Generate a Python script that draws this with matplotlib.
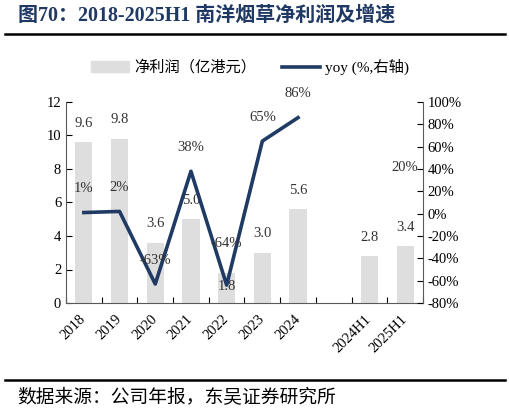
import numpy as np
import matplotlib.pyplot as plt
from matplotlib.lines import Line2D
from matplotlib.ticker import FuncFormatter

plt.rcParams['font.family'] = ['Liberation Serif', 'Noto Sans CJK SC']

# data
categories = ['2018', '2019', '2020', '2021', '2022', '2023', '2024', '', '2024H1', '2025H1']
net_profit = [9.6, 9.8, 3.6, 5.0, 1.8, 3.0, 5.6, np.nan, 2.8, 3.4]   # 亿港元
yoy = [1, 2, -63, 38, -64, 65, 86, np.nan, np.nan, 20]                # %

bar_color = '#DEDEDE'
line_color = '#1F3B63'
title_color = '#1F3864'

fig = plt.figure(figsize=(5.10, 4.13), dpi=100)
ax = fig.add_axes([66 / 510, 1 - 303 / 413, 357 / 510, 201 / 413])
ax2 = ax.twinx()

x = np.arange(len(categories))
ax.bar(x, net_profit, width=0.48, color=bar_color, zorder=1)
ax.set_ylim(0, 12)
ax.set_yticks(np.arange(0, 13, 2))
ax.set_xlim(-0.5, len(categories) - 0.5)

# tick marks on category boundaries, labels on centres
ax.set_xticks(np.arange(-0.5, len(categories), 1))
ax.set_xticklabels([])
ax.set_xticks(x, minor=True)
ax.set_xticklabels(categories, minor=True, rotation=45, ha='right',
                   rotation_mode='anchor', va='center')
ax.tick_params(axis='x', which='minor', length=0, pad=10, labelsize=10.5)
ax.tick_params(axis='x', which='major', direction='in', length=4)
ax.tick_params(axis='y', direction='in', length=4, labelsize=10.5)

yoy_arr = np.array(yoy, dtype=float) / 100
ax2.plot(x, yoy_arr, color=line_color, lw=2.6, zorder=3)
ax2.set_ylim(-0.8, 1.0)
ax2.set_yticks(np.arange(-0.8, 1.01, 0.2))
ax2.yaxis.set_major_formatter(FuncFormatter(lambda v, p: f'{round(v * 100) + 0:.0f}%'))
ax2.tick_params(axis='y', direction='in', length=4, labelsize=10.5)

for a in (ax, ax2):
    a.spines['top'].set_visible(False)
    for s in a.spines.values():
        s.set_color('#595959')
        s.set_linewidth(0.8)
ax.spines['right'].set_visible(False)
ax2.spines['left'].set_visible(False)
ax2.spines['bottom'].set_visible(False)

# bar labels
for i, v in enumerate(net_profit):
    if np.isnan(v):
        continue
    dy = -14 if categories[i] == '2022' else 19
    ax.annotate(f'{v:.1f}', (i, v), xytext=(0, dy), textcoords='offset pixels',
                ha='center', va='center', fontsize=10.5, color='#333333')

# yoy labels
for i, v in enumerate(yoy):
    if np.isnan(v):
        continue
    dy = 42 if categories[i] == '2022' else 24
    ax2.annotate(f'{v:.0f}%', (i, v / 100), xytext=(0, dy), textcoords='offset pixels',
                 ha='center', va='center', fontsize=10.5, color='#333333')

# legend
handles = [plt.Rectangle((0, 0), 1, 1, color=bar_color),
           Line2D([0], [0], color=line_color, lw=2.6)]
fig.legend(handles, ['净利润（亿港元）', 'yoy (%,右轴)'], loc='center',
           bbox_to_anchor=(250 / 510, 1 - 67 / 413), ncol=2, frameon=False,
           fontsize=11, handlelength=2.5, columnspacing=1.7, handletextpad=0.3)

# title, rules and source
fig.text(18 / 510, 1 - 16 / 413, '图70：2018-2025H1 南洋烟草净利润及增速',
         fontsize=14.4, fontweight='bold', color=title_color, va='center', ha='left')
fig.add_artist(Line2D([5 / 510, 505 / 510], [1 - 34 / 413] * 2, color='black', lw=1.8))
fig.add_artist(Line2D([5 / 510, 505 / 510], [1 - 380 / 413] * 2, color='black', lw=1.8))
fig.text(17 / 510, 1 - 398 / 413, '数据来源：公司年报，东吴证券研究所',
         fontsize=13.5, color='black', va='center', ha='left')

fig.savefig('out.png', dpi=100)
